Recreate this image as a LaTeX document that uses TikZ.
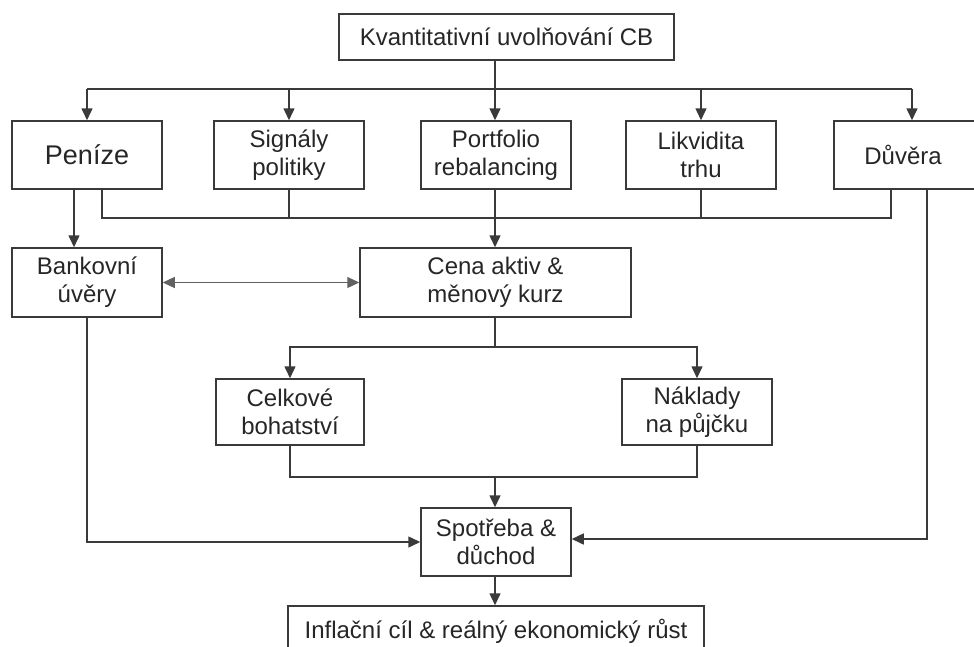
\documentclass[tikz,border=0pt]{standalone}
\usepackage{fontspec}
\setmainfont{Liberation Sans}
\usetikzlibrary{arrows.meta}
\definecolor{lc}{HTML}{3A3A3A}
\tikzset{
  box/.style={draw=lc, line width=1.5pt, minimum width=150pt, minimum height=68pt,
    align=center, inner sep=0pt, text=black!85, font=\fontsize{24}{28}\selectfont},
  ln/.style={draw=lc, line width=1.5pt},
  arr/.style={ln, -{Triangle[length=12pt,width=11pt]}},
  darr/.style={draw=lc!80, line width=1.2pt, {Triangle[length=12pt,width=11pt]}-{Triangle[length=12pt,width=11pt]}}
}
\begin{document}
\begin{tikzpicture}[x=1pt,y=-1pt]
\path[use as bounding box] (0,0) rectangle (974,646);
\clip (0,0) rectangle (974,646);
\fill[white] (0,0) rectangle (974,646);
% nodes
\node[box, minimum width=335pt, minimum height=46pt] (qe) at (506.5,37) {Kvantitativní uvolňování CB};
\node[box, font=\fontsize{27}{30}\selectfont] (pen) at (87,155) {Peníze};
\node[box] (sig) at (289,155) {Signály\\politiky};
\node[box] (por) at (496,155) {Portfolio\\rebalancing};
\node[box] (lik) at (701,155) {Likvidita\\trhu};
\node[box, minimum width=156pt] (duv) at (912,155) {\makebox[0pt]{\hspace*{-18pt}Důvěra}};
\node[box, minimum height=69pt] (ban) at (87,282.5) {Bankovní\\úvěry};
\node[box, minimum width=271pt, minimum height=69pt] (cena) at (495.5,282.5) {Cena aktiv \&\\měnový kurz};
\node[box, minimum width=148pt, minimum height=66pt] (cel) at (290,412) {Celkové\\bohatství};
\node[box, minimum height=66pt] (nak) at (697,412) {Náklady\\na půjčku};
\node[box] (spo) at (496,542) {Spotřeba \&\\důchod};
\node[box, minimum width=416pt, minimum height=50pt] (inf) at (496,631) {Inflační cíl \& reálný ekonomický růst};
% bus coordinates
\coordinate (bus1) at (495,89);
\coordinate (bus2) at (495,218);
\coordinate (bus3) at (495,347);
\coordinate (bus4) at (495,477);
% top distribution
\draw[ln] (pen.north |- bus1) -- (duv.north |- bus1);
\draw[arr] (qe.south -| bus1) -- (bus1 |- por.north);
\draw[arr] (pen.north |- bus1) -- (pen.north);
\draw[arr] (sig.north |- bus1) -- (sig.north);
\draw[arr] (lik.north |- bus1) -- (lik.north);
\draw[arr] (duv.north |- bus1) -- (duv.north);
% second bus
\draw[ln] ([xshift=15pt]pen.south) |- (bus2) -| ([xshift=-21pt]duv.south);
\draw[ln] (sig.south) -- (sig.south |- bus2);
\draw[ln] (lik.south) -- (lik.south |- bus2);
\draw[arr] (bus1 |- por.south) -- (bus1 |- cena.north);
% Penize -> Bankovni
\draw[arr] ([xshift=-13pt]pen.south) -- ([xshift=-13pt]ban.north);
\draw[darr] (ban.east) -- (cena.west);
% Cena split
\draw[ln] (bus3 |- cena.south) -- (bus3);
\draw[arr] (bus3) -| (cel.north);
\draw[arr] (bus3) -| (nak.north);
% merge
\draw[ln] (cel.south) |- (nak.south |- bus4) -- (nak.south);
\draw[arr] (bus4) -- (bus4 |- spo.north);
% side flows
\draw[arr] (ban.south) |- (spo.west);
\draw[arr] ([xshift=15pt]duv.south) |- ([yshift=3pt]spo.east);
\draw[arr] (bus4 |- spo.south) -- (bus4 |- inf.north);
\end{tikzpicture}
\end{document}
